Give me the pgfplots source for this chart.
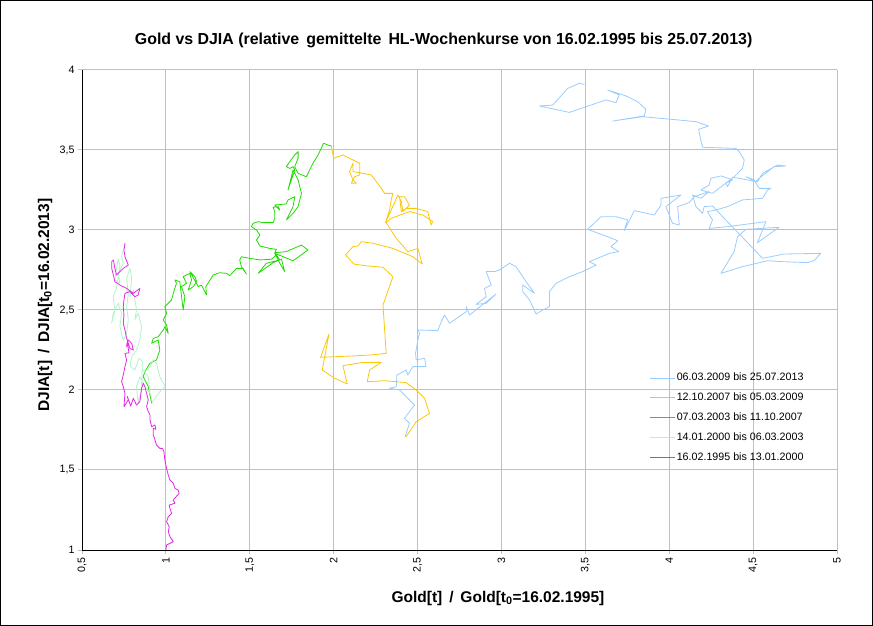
\documentclass[border=0pt]{standalone}
\usepackage{pgfplots}
\pgfplotsset{compat=1.18}
\usepackage{fontspec}
\setmainfont{Liberation Sans}
\definecolor{cblue}{RGB}{153,204,255}
\definecolor{cyellow}{RGB}{250,200,10}
\definecolor{cgreen}{RGB}{30,220,0}
\definecolor{clight}{RGB}{178,243,200}
\definecolor{cmag}{RGB}{228,40,228}
\definecolor{cgrid}{RGB}{192,192,192}
\begin{document}
\begin{tikzpicture}
\useasboundingbox (0,0) rectangle (873bp,626bp);
\draw[black,line width=1bp] (0.5bp,0.5bp) rectangle (872.5bp,625.5bp);
\begin{axis}[
  at={(82bp,76bp)}, anchor=south west,
  scale only axis, width=755bp, height=480bp,
  xmin=0.5, xmax=5, ymin=1, ymax=4,
  xtick={0.5,1,...,5}, ytick={1,1.5,...,4},
  axis x line*=bottom, axis y line*=left,
  axis line style={black,line width=1bp},
  grid=major, major grid style={cgrid,line width=1bp},
  tick align=outside, major tick length=4bp,
  tick style={cgrid,line width=1bp},
  /pgf/number format/assume math mode=true,
  /pgf/number format/use comma,
  ticklabel style={font=\fontsize{10.7bp}{12bp}\selectfont},
  xticklabel style={rotate=90,anchor=east},
  title={Gold vs DJIA (relative\, gemittelte\, HL-Wochenkurse von 16.02.1995 bis 25.07.2013)},
  title style={font=\fontsize{15.9bp}{18bp}\selectfont\bfseries, at={(axis description cs:0.479,1.05)}, anchor=center},
  xlabel={Gold[t] \,/\, Gold[t\textsubscript{0}=16.02.1995]},
  xlabel style={font=\fontsize{15.5bp}{18bp}\selectfont\bfseries, at={(axis description cs:0.551,-0.1)}, anchor=center},
  ylabel={DJIA[t] \,/\, DJIA[t\textsubscript{0}=16.02.2013]},
  ylabel style={font=\fontsize{15.5bp}{18bp}\selectfont\bfseries, at={(axis description cs:-0.049,0.51)}, anchor=center, rotate=0},
  legend style={at={(axis description cs:0.752,0.371)}, anchor=north west, draw=none, fill=none,
    font=\fontsize{10.7bp}{12bp}\selectfont, inner sep=0pt,
    nodes={inner sep=1bp, text height=7.7bp, text depth=2bp}, row sep=8.1bp},
  legend cell align=left,
  legend image code/.code={\draw[#1] (0bp,0bp) -- (25bp,0bp);},
  every axis plot/.append style={line width=0.8bp, line join=round},
]
\addplot[cblue] coordinates {(2.426,1.708)(2.452,1.792)(2.422,1.823)(2.482,1.906)(2.432,1.958)(2.393,2.000)(2.333,2.010)(2.373,2.021)(2.377,2.094)(2.432,2.125)(2.442,2.094)(2.472,2.146)(2.551,2.146)(2.542,2.198)(2.492,2.188)(2.488,2.229)(2.502,2.313)(2.512,2.354)(2.502,2.375)(2.621,2.371)(2.641,2.427)(2.661,2.469)(2.691,2.417)(2.790,2.490)(2.790,2.521)(2.810,2.469)(2.968,2.600)(2.909,2.542)(2.849,2.535)(2.909,2.583)(2.899,2.635)(2.939,2.656)(2.909,2.740)(2.959,2.740)(2.988,2.750)(3.048,2.792)(3.087,2.771)(3.147,2.677)(3.197,2.604)(3.127,2.656)(3.127,2.615)(3.167,2.563)(3.207,2.475)(3.246,2.500)(3.286,2.521)(3.286,2.615)(3.326,2.667)(3.405,2.708)(3.484,2.740)(3.564,2.781)(3.524,2.802)(3.643,2.854)(3.699,2.865)(3.653,2.896)(3.693,2.933)(3.633,2.958)(3.514,3.004)(3.593,3.083)(3.683,3.083)(3.752,3.063)(3.732,2.996)(3.792,3.121)(3.911,3.094)(3.951,3.156)(3.951,3.198)(4.070,3.219)(3.980,3.146)(4.020,3.042)(4.060,3.031)(4.050,3.146)(4.119,3.171)(4.149,3.208)(4.238,3.240)(4.189,3.198)(4.139,3.219)(4.159,3.146)(4.199,3.104)(4.208,3.146)(4.258,3.150)(4.556,2.823)(4.685,2.850)(4.903,2.854)(4.863,2.808)(4.824,2.796)(4.675,2.802)(4.586,2.808)(4.437,2.771)(4.308,2.729)(4.387,2.865)(4.407,2.958)(4.457,3.004)(4.655,3.017)(4.526,2.921)(4.576,3.052)(4.347,3.021)(4.238,3.010)(4.258,3.063)(4.228,3.115)(4.278,3.125)(4.347,3.146)(4.437,3.188)(4.556,3.198)(4.586,3.250)(4.605,3.260)(4.536,3.260)(4.506,3.313)(4.457,3.333)(4.516,3.302)(4.536,3.323)(4.625,3.396)(4.695,3.400)(4.645,3.406)(4.556,3.354)(4.526,3.302)(4.466,3.313)(4.417,3.323)(4.377,3.329)(4.347,3.271)(4.337,3.292)(4.377,3.313)(4.308,3.338)(4.248,3.323)(4.238,3.281)(4.189,3.250)(4.258,3.229)(4.387,3.333)(4.437,3.385)(4.447,3.438)(4.417,3.490)(4.397,3.510)(4.199,3.517)(4.189,3.558)(4.175,3.629)(4.234,3.650)(4.159,3.677)(3.990,3.694)(3.841,3.708)(3.663,3.681)(3.851,3.713)(3.861,3.754)(3.812,3.802)(3.742,3.838)(3.633,3.875)(3.702,3.844)(3.683,3.796)(3.623,3.813)(3.405,3.735)(3.226,3.775)(3.306,3.781)(3.395,3.885)(3.464,3.917)(3.494,3.910)};
\addlegendentry{06.03.2009 bis 25.07.2013}
\addplot[cyellow] coordinates {(1.986,3.525)(2.000,3.448)(2.055,3.469)(2.115,3.438)(2.155,3.417)(2.155,3.344)(2.125,3.333)(2.105,3.292)(2.135,3.292)(2.115,3.313)(2.095,3.365)(2.115,3.417)(2.115,3.365)(2.155,3.358)(2.224,3.344)(2.284,3.260)(2.303,3.229)(2.353,3.229)(2.343,3.188)(2.333,3.125)(2.309,3.046)(2.343,3.125)(2.383,3.219)(2.403,3.177)(2.413,3.115)(2.452,3.156)(2.422,3.208)(2.393,3.208)(2.403,3.115)(2.432,3.135)(2.492,3.135)(2.561,3.115)(2.581,3.031)(2.591,3.052)(2.532,3.094)(2.452,3.115)(2.343,3.073)(2.313,3.046)(2.373,2.948)(2.442,2.865)(2.502,2.885)(2.528,2.787)(2.472,2.833)(2.353,2.885)(2.234,2.917)(2.165,2.927)(2.145,2.900)(2.115,2.896)(2.071,2.844)(2.121,2.787)(2.204,2.775)(2.294,2.767)(2.353,2.708)(2.294,2.531)(2.313,2.229)(2.224,2.219)(2.095,2.212)(1.922,2.204)(1.972,2.350)(1.932,2.125)(2.006,2.073)(2.081,2.038)(2.055,2.152)(2.165,2.171)(2.284,2.173)(2.214,2.125)(2.200,2.052)(2.303,2.058)(2.432,2.046)(2.492,2.000)(2.542,1.948)(2.571,1.854)(2.492,1.802)(2.432,1.708)};
\addlegendentry{12.10.2007 bis 05.03.2009}
\addplot[cgreen] coordinates {(0.915,1.917)(0.895,2.021)(0.865,2.083)(0.875,2.115)(0.905,2.167)(0.944,2.188)(0.964,2.250)(0.954,2.313)(0.915,2.292)(0.925,2.323)(0.954,2.333)(0.984,2.375)(0.994,2.396)(1.014,2.354)(1.004,2.406)(0.984,2.438)(1.004,2.479)(0.994,2.521)(1.034,2.563)(1.044,2.604)(1.063,2.667)(1.054,2.688)(1.083,2.677)(1.103,2.500)(1.113,2.583)(1.093,2.646)(1.123,2.667)(1.103,2.708)(1.143,2.729)(1.153,2.688)(1.133,2.625)(1.163,2.646)(1.183,2.677)(1.173,2.708)(1.143,2.740)(1.193,2.646)(1.212,2.656)(1.242,2.594)(1.238,2.646)(1.282,2.719)(1.321,2.733)(1.361,2.729)(1.381,2.715)(1.421,2.760)(1.460,2.760)(1.480,2.725)(1.450,2.771)(1.440,2.813)(1.450,2.833)(1.500,2.823)(1.560,2.813)(1.629,2.817)(1.659,2.844)(1.679,2.813)(1.599,2.792)(1.550,2.729)(1.639,2.796)(1.689,2.817)(1.708,2.740)(1.679,2.792)(1.649,2.854)(1.758,2.808)(1.847,2.875)(1.808,2.906)(1.718,2.865)(1.649,2.858)(1.659,2.879)(1.619,2.885)(1.560,2.900)(1.540,2.938)(1.560,2.969)(1.540,3.000)(1.510,3.021)(1.520,3.042)(1.550,3.052)(1.579,3.046)(1.639,3.046)(1.649,3.073)(1.649,3.115)(1.639,3.142)(1.669,3.146)(1.679,3.125)(1.649,3.156)(1.718,3.163)(1.728,3.188)(1.768,3.208)(1.758,3.146)(1.728,3.083)(1.718,3.063)(1.758,3.104)(1.788,3.146)(1.798,3.188)(1.808,3.229)(1.798,3.271)(1.788,3.313)(1.758,3.375)(1.728,3.250)(1.748,3.313)(1.768,3.375)(1.758,3.396)(1.738,3.385)(1.718,3.396)(1.738,3.427)(1.768,3.469)(1.788,3.490)(1.788,3.448)(1.768,3.396)(1.788,3.354)(1.837,3.333)(1.847,3.354)(1.877,3.417)(1.907,3.469)(1.940,3.542)(1.966,3.531)(1.986,3.525)};
\addlegendentry{07.03.2003 bis 11.10.2007}
\addplot[clight] coordinates {(0.752,2.885)(0.746,2.875)(0.736,2.833)(0.746,2.792)(0.716,2.729)(0.726,2.667)(0.696,2.688)(0.706,2.760)(0.716,2.820)(0.726,2.780)(0.706,2.640)(0.686,2.583)(0.696,2.500)(0.677,2.417)(0.686,2.479)(0.716,2.542)(0.736,2.479)(0.726,2.400)(0.736,2.350)(0.746,2.313)(0.766,2.354)(0.776,2.438)(0.766,2.521)(0.776,2.600)(0.766,2.700)(0.786,2.760)(0.796,2.700)(0.786,2.583)(0.806,2.625)(0.825,2.500)(0.815,2.440)(0.835,2.480)(0.855,2.396)(0.845,2.313)(0.825,2.250)(0.796,2.208)(0.786,2.150)(0.815,2.125)(0.840,2.200)(0.860,2.180)(0.855,2.000)(0.835,1.917)(0.825,2.021)(0.845,2.083)(0.875,2.021)(0.905,1.979)(0.895,2.083)(0.865,2.125)(0.895,2.125)(0.925,2.188)(0.944,2.167)(0.964,2.083)(0.996,2.021)(0.964,1.990)(0.915,1.917)};
\addlegendentry{14.01.2000 bis 06.03.2003}
\addplot[cmag] coordinates {(1.000,1.000)(1.004,1.031)(1.044,1.052)(1.024,1.083)(1.014,1.115)(1.020,1.146)(1.004,1.177)(1.014,1.208)(1.034,1.229)(1.024,1.260)(1.020,1.281)(1.054,1.292)(1.044,1.313)(1.079,1.354)(1.073,1.375)(1.054,1.385)(1.044,1.417)(1.024,1.438)(1.014,1.469)(1.004,1.510)(0.994,1.563)(0.988,1.615)(0.980,1.635)(0.964,1.635)(0.944,1.656)(0.935,1.688)(0.925,1.719)(0.925,1.760)(0.940,1.754)(0.935,1.781)(0.915,1.771)(0.905,1.813)(0.905,1.844)(0.895,1.865)(0.885,1.896)(0.895,1.938)(0.885,1.979)(0.875,2.021)(0.865,2.042)(0.855,2.010)(0.845,1.927)(0.825,1.906)(0.806,1.948)(0.790,1.900)(0.770,1.960)(0.776,1.938)(0.750,1.895)(0.756,1.979)(0.746,2.021)(0.736,2.052)(0.746,2.094)(0.756,2.146)(0.766,2.188)(0.756,2.229)(0.780,2.232)(0.770,2.300)(0.766,2.271)(0.776,2.313)(0.796,2.292)(0.806,2.250)(0.786,2.260)(0.766,2.323)(0.756,2.375)(0.746,2.417)(0.750,2.469)(0.746,2.521)(0.750,2.563)(0.756,2.604)(0.786,2.615)(0.815,2.583)(0.835,2.594)(0.845,2.635)(0.806,2.604)(0.766,2.635)(0.726,2.656)(0.696,2.677)(0.687,2.719)(0.677,2.760)(0.677,2.802)(0.687,2.813)(0.696,2.760)(0.706,2.719)(0.726,2.740)(0.746,2.760)(0.776,2.781)(0.756,2.833)(0.750,2.875)(0.756,2.917)(0.752,2.885)};
\addlegendentry{16.02.1995 bis 13.01.2000}
\end{axis}
\end{tikzpicture}
\end{document}
